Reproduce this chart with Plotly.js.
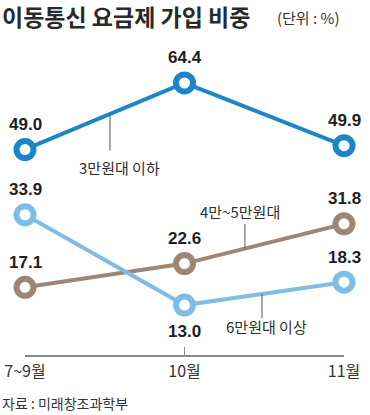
<!DOCTYPE html>
<html>
<head>
<meta charset="utf-8">
<script src="https://cdn.plot.ly/plotly-3.0.1.min.js"></script>
<style>
  html, body { margin: 0; padding: 0; background: #fff; }
  #chart { width: 370px; height: 415px; }
</style>
</head>
<body>
<div id="chart"></div>
<script>
// ---- data ----
const categories = ['7~9월', '10월', '11월'];
const seriesNames = ['3만원대 이하', '4만~5만원대', '6만원대 이상'];
const low = [49.0, 64.4, 49.9];     // 3만원대 이하
const mid = [17.1, 22.6, 31.8];     // 4만~5만원대
const high = [33.9, 13.0, 18.3];    // 6만원대 이상
const chartTitle = '이동통신 요금제 가입 비중';
const unitText = '(단위 : %)';
const sourceText = '자료 : 미래창조과학부';

// ---- styles ----
const colors = ['#1a86c9', '#9c8777', '#80bde5'];
const series = [low, mid, high];
const numFont = 'Liberation Sans, Arial, sans-serif';
const krFont = 'Noto Sans CJK KR, Noto Sans, sans-serif';
const xIdx = categories.map((c, i) => i);

const traces = series.map((vals, k) => ({
  x: xIdx,
  y: vals,
  type: 'scatter',
  mode: 'lines+markers',
  name: seriesNames[k],
  cliponaxis: false,
  line: { color: colors[k], width: 4 },
  marker: { symbol: 'circle', size: 17, color: '#ffffff', line: { color: colors[k], width: 6 } },
  hoverinfo: 'skip'
}));

const annotations = [];
// value labels
series.forEach((vals, k) => {
  vals.forEach((v, i) => {
    const below = (k === 2 && i === 1);
    annotations.push({
      x: i, y: v, xref: 'x', yref: 'y', showarrow: false,
      text: v.toFixed(1),
      yshift: below ? -26 : 25,
      font: { family: numFont, size: 17, color: '#1e1e1e', weight: 'bold' }
    });
  });
});

// leader lines + series labels
function valueAt(vals, xp) {
  const i = Math.floor(xp);
  const f = xp - i;
  return vals[i] + (vals[i + 1] - vals[i]) * f;
}
const leaders = [
  { k: 0, xp: 0.533, ay: 38, dx: 9, dy: -53 },
  { k: 1, xp: 1.379, ay: -26, dx: -5, dy: 37 },
  { k: 2, xp: 1.486, ay: 26, dx: 4, dy: -33 }
];
leaders.forEach(L => {
  const yv = valueAt(series[L.k], L.xp);
  annotations.push({
    x: L.xp, y: yv, xref: 'x', yref: 'y', text: '',
    showarrow: true, arrowhead: 0, arrowwidth: 1, arrowcolor: '#555555',
    ax: 0, ay: L.ay, axref: 'pixel', ayref: 'pixel', standoff: 0, startstandoff: 0
  });
  annotations.push({
    x: L.xp, y: yv, xref: 'x', yref: 'y', showarrow: false,
    text: seriesNames[L.k], xshift: L.dx, yshift: L.dy,
    font: { family: krFont, size: 15, color: '#2e2e2e' }
  });
});

// unit and source
annotations.push({
  xref: 'paper', yref: 'paper', x: 250 / 319, y: 1 + 23 / 315,
  xanchor: 'left', yanchor: 'middle', showarrow: false,
  text: unitText, font: { family: krFont, size: 15, color: '#333333' }
});
annotations.push({
  xref: 'paper', yref: 'paper', x: -25 / 319, y: -48 / 315,
  xanchor: 'left', yanchor: 'middle', showarrow: false,
  text: sourceText, font: { family: krFont, size: 14, color: '#333333' }
});

const layout = {
  width: 370, height: 415,
  margin: { l: 25, r: 26, t: 40, b: 60, pad: 0 },
  paper_bgcolor: '#ffffff', plot_bgcolor: '#ffffff',
  showlegend: false,
  title: {
    text: chartTitle,
    x: 2 / 370, xanchor: 'left', xref: 'container',
    y: 1 - 18 / 415, yanchor: 'middle', yref: 'container',
    font: { family: krFont, size: 23, color: '#2a2a2a', weight: 'bold' }
  },
  xaxis: {
    range: [0, 2], tickmode: 'array', tickvals: xIdx, ticktext: categories,
    showgrid: false, zeroline: false, showline: true, linecolor: '#888888', linewidth: 1.5,
    ticks: 'inside', ticklen: 8, tickwidth: 1.5, tickcolor: '#888888',
    ticklabelstandoff: 1,
    tickfont: { family: krFont, size: 16, color: '#333333' },
    fixedrange: true
  },
  yaxis: {
    range: [1.44, 74.35], visible: false, showgrid: false, zeroline: false, fixedrange: true
  },
  annotations: annotations
};

Plotly.newPlot('chart', traces, layout, { staticPlot: true, displayModeBar: false });
</script>
</body>
</html>
